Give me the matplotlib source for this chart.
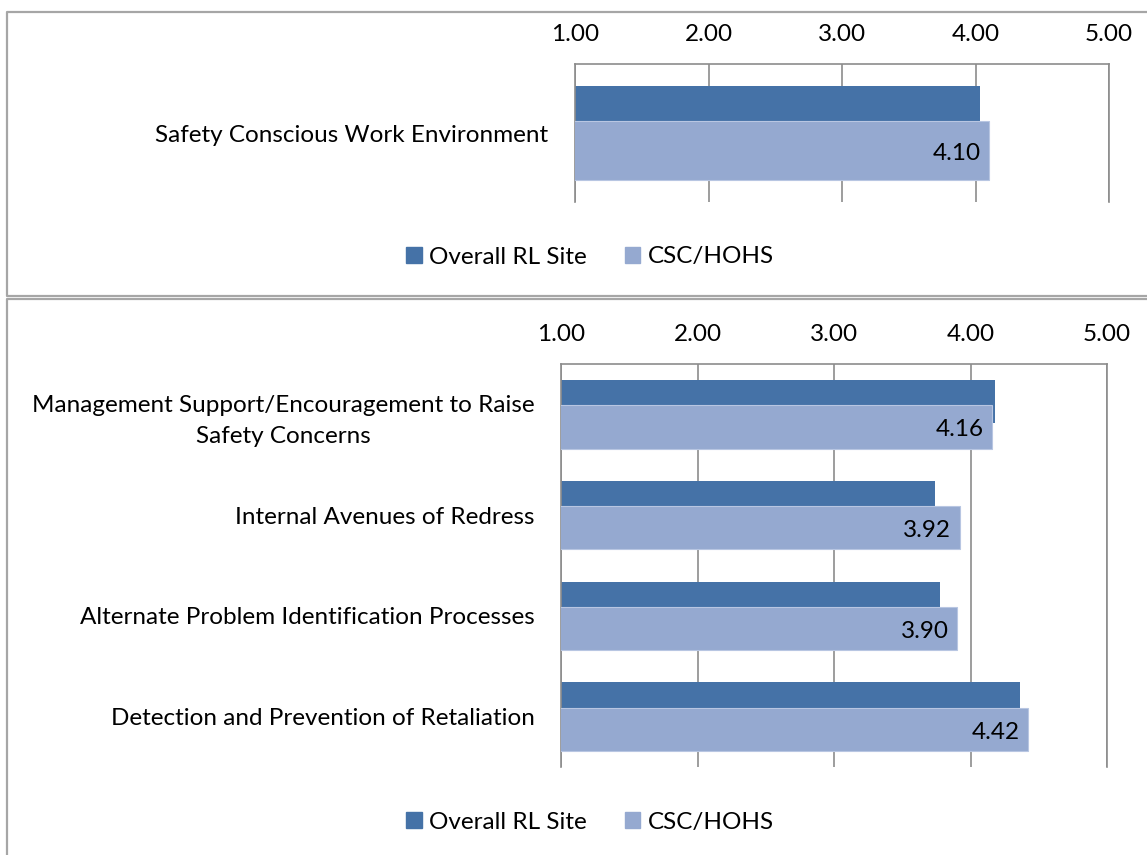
import matplotlib
matplotlib.use("Agg")
import matplotlib.pyplot as plt
from matplotlib.lines import Line2D
from matplotlib.patches import Patch

plt.rcParams['font.family'] = ['Lato', 'DejaVu Sans']

# --- data ---
series_names = ["Overall RL Site", "CSC/HOHS"]

top_categories = ["Safety Conscious Work Environment"]
top_site = [4.03]
top_csc = [4.10]

bottom_categories = [
    "Management Support/Encouragement to Raise\nSafety Concerns",
    "Internal Avenues of Redress",
    "Alternate Problem Identification Processes",
    "Detection and Prevention of Retaliation",
]
bottom_site = [4.18, 3.74, 3.78, 4.36]
bottom_csc = [4.16, 3.92, 3.90, 4.42]

x_ticks = [1, 2, 3, 4, 5]

DARK = '#4572A7'
LIGHT = '#95A9D0'
GRID = '#8C8C8C'
FRAME = '#A6A6A6'
FONT_SIZE = 17.5

W, H = 1147, 855
fig = plt.figure(figsize=(W / 100, H / 100), dpi=100)


def px_axes(left, top, right, bottom):
    return fig.add_axes([left / W, 1 - bottom / H, (right - left) / W, (bottom - top) / H])


def fig_line(xs, ys):
    fig.add_artist(Line2D([x / W for x in xs], [1 - y / H for y in ys],
                          transform=fig.transFigure, color=FRAME, linewidth=1.6))


def draw_panel(ax, categories, site, csc):
    h = 0.43
    d = 0.126
    y = list(range(len(categories)))
    ax.barh([v - d for v in y], site, height=h, color=DARK, zorder=2)
    ax.barh([v + d for v in y], csc, height=h, color=LIGHT, edgecolor='#B8C6E2',
            linewidth=0.8, zorder=3)
    for yi, v in zip(y, csc):
        ax.annotate(f"{v:.2f}", xy=(v, yi + d), xytext=(-6, -2), textcoords='offset points',
                    ha='right', va='center', fontsize=FONT_SIZE, color='black', zorder=4)

    ax.set_xlim(1, 5)
    ax.set_ylim(len(categories) - 0.5, -0.5)
    ax.set_xticks(x_ticks)
    ax.set_xticklabels([f"{t:.2f}" for t in x_ticks], fontsize=FONT_SIZE)
    ax.xaxis.tick_top()
    ax.tick_params(axis='x', length=0, pad=14)
    ax.set_yticks(y)
    ax.set_yticklabels(categories, fontsize=FONT_SIZE, multialignment='center',
                       linespacing=1.55)
    ax.tick_params(axis='y', length=0, pad=19)
    ax.grid(axis='x', color=GRID, linewidth=1.2, zorder=0)
    ax.set_axisbelow(True)
    for side in ['top', 'left', 'right']:
        ax.spines[side].set_color(GRID)
        ax.spines[side].set_linewidth(1.2)
    ax.spines['bottom'].set_visible(False)


# panel frames
fig_line([1160, 7, 7, 1160], [12, 12, 296, 296])
fig_line([1160, 7, 7], [299, 299, 870])

ax_top = px_axes(575, 64, 1109, 202)
draw_panel(ax_top, top_categories, top_site, top_csc)

ax_bot = px_axes(561, 364, 1107, 767)
draw_panel(ax_bot, bottom_categories, bottom_site, bottom_csc)

handles = [Patch(color=DARK), Patch(color=LIGHT)]
for y_px in [257, 822]:
    fig.legend(handles, series_names, loc='center', bbox_to_anchor=(590 / W, 1 - y_px / H),
               ncol=2, frameon=False, fontsize=FONT_SIZE, handlelength=0.65,
               handleheight=0.65, handletextpad=0.3, columnspacing=1.55)

fig.savefig("out.png", dpi=100, facecolor='white')
